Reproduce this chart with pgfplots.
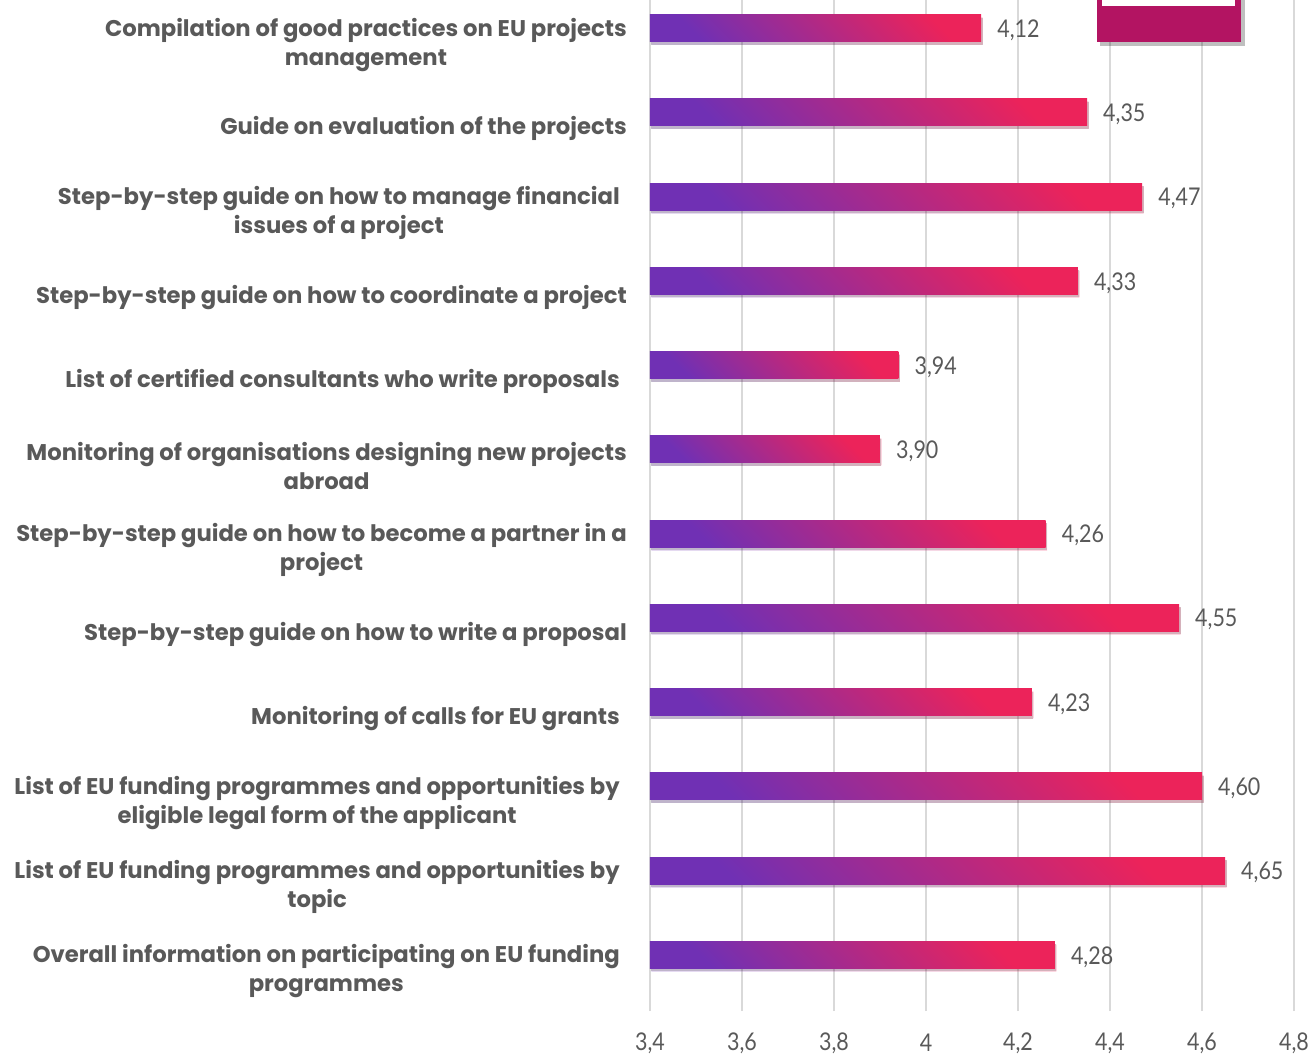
\documentclass[border=0pt]{standalone}
\usepackage{pgfplots}
\pgfplotsset{compat=1.18}
\usepackage{fontspec}
\setmainfont{Poppins}
\newfontfamily\numfont[FakeStretch=0.88]{Lato}
\definecolor{txt}{HTML}{595959}
\definecolor{barL}{HTML}{7030B4}
\definecolor{barR}{HTML}{EC235A}
\definecolor{gridc}{HTML}{D9D9D9}
\definecolor{mag}{HTML}{B31462}

\pgfplotsset{gbar/.style={xbar, bar width=27bp, bar shift=14bp, draw=none,
  preaction={fill=black, opacity=0.18, transform canvas={xshift=1.5bp, yshift=-3bp}},
  left color=barL, right color=barR, shading angle=135,
  point meta=explicit,
  nodes near coords={\pgfmathprintnumber[fixed,zerofill,precision=2,use comma]{\pgfplotspointmeta}},
  nodes near coords style={anchor=west, inner sep=0pt, xshift=16bp, yshift=12bp,
    font=\numfont\fontsize{24.5}{24.5}\selectfont, text=txt}}}

\begin{document}
\begin{tikzpicture}[x=1bp,y=1bp]
\begin{axis}[
  at={(0,0)}, anchor=south west,
  scale only axis, width=644bp, height=1011bp,
  /pgf/number format/assume math mode=true,
  x coord trafo/.code={\pgfmathparse{#1-3.4}},
  x coord inv trafo/.code={\pgfmathparse{#1+3.4}},
  xmin=3.4, xmax=4.8, ymin=-0.5, ymax=11.5,
  xtick={3.4,3.6,3.8,4.0,4.2,4.4,4.6,4.8},
  xticklabels={{3,4},{3,6},{3,8},{4},{4,2},{4,4},{4,6},{4,8}},
  ytick={0,...,11},
  yticklabels={
    {Overall information on participating on EU funding\kern7bp\\programmes\kern7bp},
    {List of EU funding programmes and opportunities by\kern7bp\\topic\kern7bp},
    {List of EU funding programmes and opportunities by\kern7bp\\eligible legal form of the applicant\kern7bp},
    {Monitoring of calls for EU grants\kern7bp},
    {Step-by-step guide on how to write a proposal},
    {Step-by-step guide on how to become a partner in a\\project},
    {Monitoring of organisations designing new projects\\abroad},
    {List of certified consultants who write proposals\kern7bp},
    {Step-by-step guide on how to coordinate a project},
    {Step-by-step guide on how to manage financial\kern7bp\\issues of a project\kern7bp},
    {Guide on evaluation of the projects},
    {Compilation of good practices on EU projects\\management}},
  yticklabel style={anchor=east, align=center, inner sep=0pt, xshift=-23bp, yshift=-2.5bp,
    font=\bfseries\fontsize{22.8}{29}\selectfont, text=txt},
  xticklabel style={anchor=center, yshift=-32bp, inner sep=0pt,
    font=\numfont\fontsize{24.5}{24.5}\selectfont, text=txt},
  xmajorgrids, grid style={gridc, line width=1.5bp},
  axis line style={draw=none},
  major tick length=0pt,
  clip=false,
]
\addplot[gbar] coordinates {(4.12,11) [4.12]};
\addplot[gbar] coordinates {(4.35,10) [4.35]};
\addplot[gbar] coordinates {(4.47,9) [4.47]};
\addplot[gbar] coordinates {(4.33,8) [4.33]};
\addplot[gbar] coordinates {(3.94,7) [3.94]};
\addplot[gbar] coordinates {(3.90,6) [3.90]};
\addplot[gbar] coordinates {(4.26,5) [4.26]};
\addplot[gbar] coordinates {(4.55,4) [4.55]};
\addplot[gbar] coordinates {(4.23,3) [4.23]};
\addplot[gbar] coordinates {(4.60,2) [4.60]};
\addplot[gbar] coordinates {(4.65,1) [4.65]};
\addplot[gbar] coordinates {(4.28,0) [4.28]};
\end{axis}
% decorative box at top right (cropped in reference)
\fill[black, opacity=0.25] (450,965) rectangle (595,1011);
\fill[mag] (447,969) rectangle (591,1011);
\fill[white] (452,1005) rectangle (585,1011);
\pgfresetboundingbox
\path[use as bounding box] (-650,-44) rectangle (662,1011);
\end{tikzpicture}
\end{document}
